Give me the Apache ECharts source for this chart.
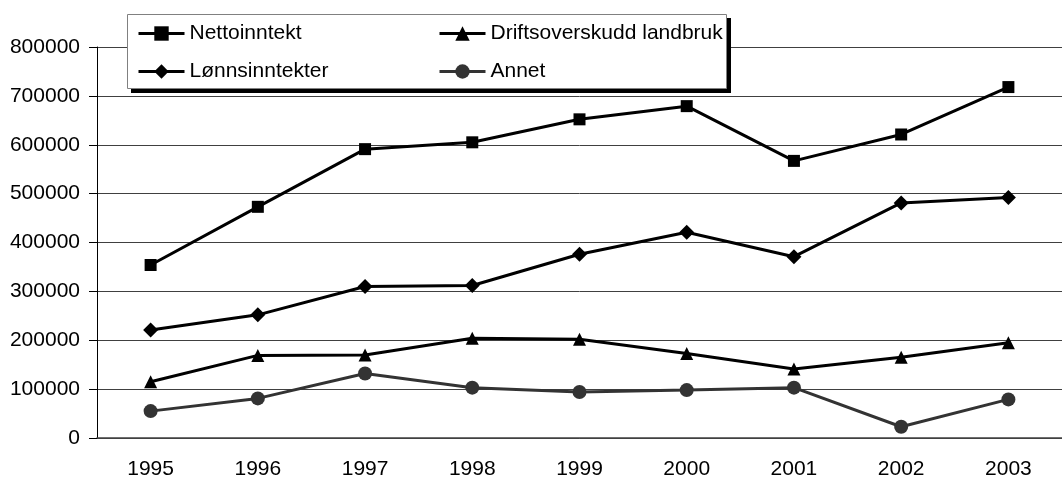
<!DOCTYPE html>
<html>
<head>
<meta charset="utf-8">
<script src="https://cdn.jsdelivr.net/npm/echarts@6/dist/echarts.min.js"></script>
<style>
    html, body { margin: 0; padding: 0; background: #fff; }
    #main { width: 1062px; height: 480px; }
</style>
</head>
<body>
<div id="main"></div>
<script>
// data
var years = ['1995', '1996', '1997', '1998', '1999', '2000', '2001', '2002', '2003'];
var nettoinntekt = [354000, 473000, 591000, 605000, 652000, 679000, 567000, 621000, 718000];
var lonnsinntekter = [221000, 252000, 310000, 312000, 376000, 421000, 371000, 481000, 492000];
var driftsoverskudd = [115000, 169000, 170000, 204000, 202000, 173000, 141000, 165000, 195000];
var annet = [55000, 81000, 132000, 103000, 94000, 98000, 103000, 23000, 79000];

var font = '"Liberation Sans", Arial, sans-serif';

var myChart = echarts.init(document.getElementById('main'));

function lineSeries(name, data, symbol, size, color) {
    return {
        type: 'line',
        name: name,
        data: data,
        symbol: symbol,
        symbolSize: size,
        z: 3,
        lineStyle: { color: color, width: 3 },
        itemStyle: { color: color },
        emphasis: { disabled: true }
    };
}

var legendCommon = {
    orient: 'vertical',
    top: 23,
    padding: 0,
    itemWidth: 46,
    itemHeight: 18,
    itemGap: 17,
    lineStyle: { width: 3 },
    textStyle: { fontFamily: font, fontSize: 21, color: '#000' },
    selectedMode: false,
    z: 10
};

var option = {
    backgroundColor: '#fff',
    animation: false,
    grid: { left: 97, right: -10, top: 47, bottom: 42, containLabel: false },
    legend: [
        Object.assign({ left: 137, data: ['Nettoinntekt', 'Lønnsinntekter'] }, legendCommon),
        Object.assign({ left: 438, data: ['Driftsoverskudd landbruk', 'Annet'] }, legendCommon)
    ],
    graphic: [{
        // hard black shadow of the legend frame
        type: 'rect',
        z: 8,
        shape: { x: 131, y: 18, width: 600, height: 75 },
        style: { fill: '#000' }
    }, {
        type: 'rect',
        z: 9,
        shape: { x: 127.5, y: 14.5, width: 599, height: 74 },
        style: { fill: '#fff', stroke: '#808080', lineWidth: 1 }
    }],
    xAxis: {
        type: 'category',
        data: years,
        boundaryGap: true,
        axisLine: { lineStyle: { color: '#404040', width: 1.5 } },
        axisTick: { length: 6, lineStyle: { color: '#404040' } },
        axisLabel: { margin: 21, fontFamily: font, fontSize: 21, color: '#000' },
        splitLine: { show: false }
    },
    yAxis: {
        type: 'value',
        min: 0,
        max: 800000,
        interval: 100000,
        axisLine: { show: true, lineStyle: { color: '#000', width: 1 } },
        axisTick: { show: true, length: 8, lineStyle: { color: '#000' } },
        axisLabel: {
            margin: 17, fontFamily: font, fontSize: 21, color: '#000',
            formatter: function (v) { return String(v); }
        },
        splitLine: { lineStyle: { color: '#404040', width: 1 } }
    },
    series: [
        lineSeries('Nettoinntekt', nettoinntekt, 'rect', 12, '#000'),
        lineSeries('Driftsoverskudd landbruk', driftsoverskudd, 'triangle', 13, '#000'),
        lineSeries('Lønnsinntekter', lonnsinntekter, 'diamond', 15, '#000'),
        lineSeries('Annet', annet, 'circle', 14, '#333')
    ]
};

myChart.setOption(option);
</script>
</body>
</html>
